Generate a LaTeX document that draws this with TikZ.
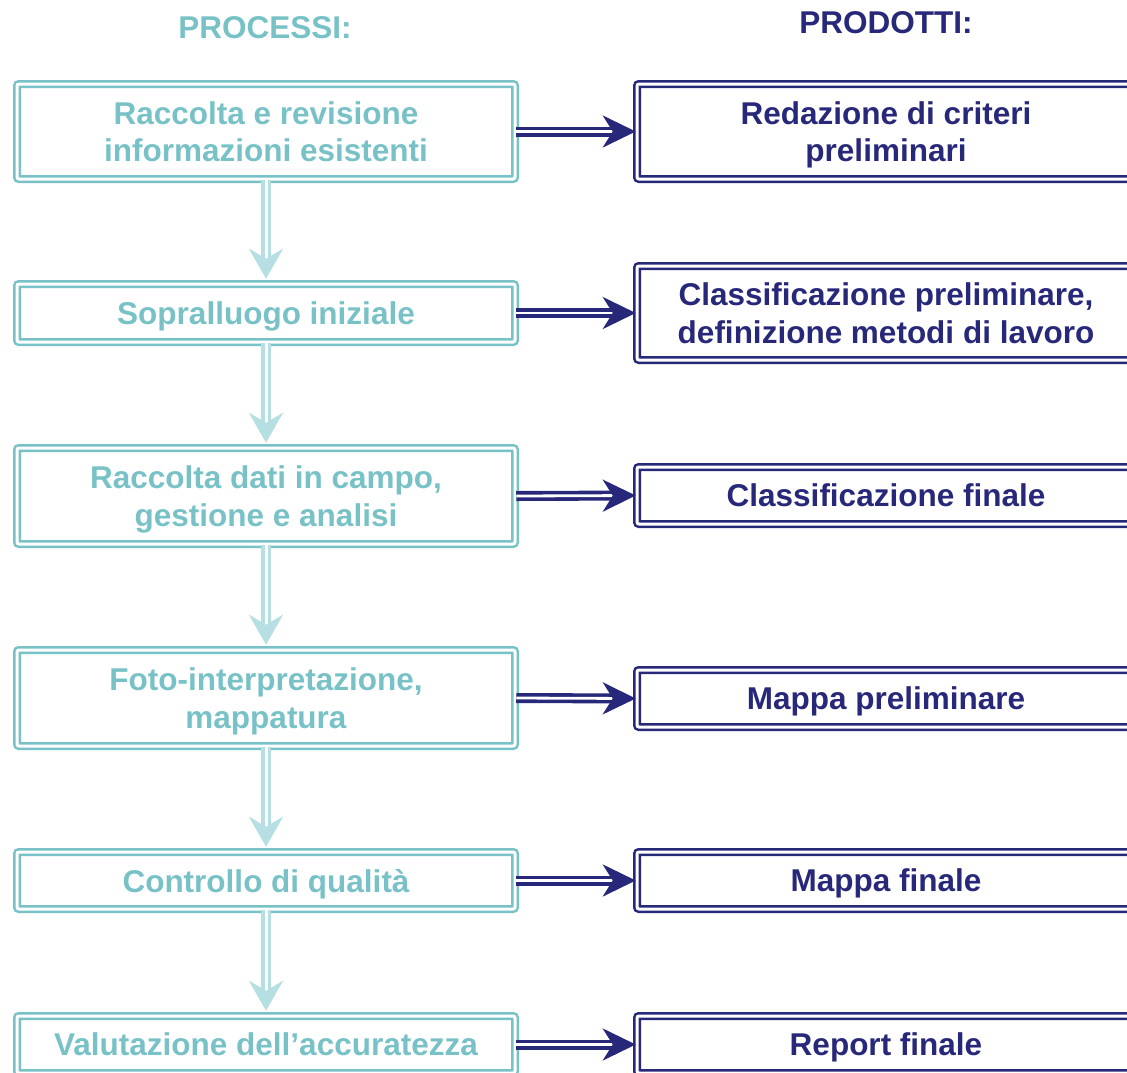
\documentclass[tikz,border=0pt]{standalone}
\usepackage{fontspec}
\setmainfont{Liberation Sans}
\usetikzlibrary{arrows.meta}
\definecolor{teal1}{HTML}{78C2C7}
\definecolor{teallight}{HTML}{B6DFE3}
\definecolor{navy1}{HTML}{28287A}
\tikzset{
  boxbase/.style={draw, double=white, double distance=3pt, line width=2.5pt,
    rounded corners=2pt, minimum width=498pt, inner sep=0pt, align=center,
    text depth=0pt,
    font=\fontsize{31.5}{37.5}\selectfont\bfseries},
  procbox/.style={boxbase, draw=teal1, text=teal1},
  prodbox/.style={boxbase, draw=navy1, text=navy1},
  downarrow/.style={draw=teallight, double=white, double distance=3pt, line width=3.5pt,
    -{Stealth[length=30pt, width=34pt, inset=10pt]}},
  rightarrow/.style={draw=navy1, double=white, double distance=2.8pt, line width=3.6pt,
    -{Stealth[length=33pt, width=32pt, inset=10pt]}},
  header/.style={font=\fontsize{31.5}{37.5}\selectfont\bfseries, inner sep=0pt}
}
\begin{document}
\begin{tikzpicture}[x=1pt, y=-1pt]
\useasboundingbox (0,0) rectangle (1127,1072);
\clip (0,0) rectangle (1127,1072);
\node[header, text=teal1, anchor=base] (h1) at (265,38) {PROCESSI:};
\node[header, text=navy1, anchor=base] (h2) at (886,33) {PRODOTTI:};

\node[procbox, minimum height=95pt] (L1) at (266,131.5) {Raccolta e revisione\\informazioni esistenti};
\node[procbox, minimum height=58pt] (L2) at (266,313) {Sopralluogo iniziale};
\node[procbox, minimum height=96pt] (L3) at (266,496) {Raccolta dati in campo,\\gestione e analisi};
\node[procbox, minimum height=96pt] (L4) at (266,698) {Foto-interpretazione,\\mappatura};
\node[procbox, minimum height=57pt] (L5) at (266,880.5) {Controllo di qualità};
\node[procbox, minimum height=57pt] (L6) at (266,1044.5) {Valutazione dell’accuratezza};

\node[prodbox, minimum height=95pt] (R1) at (886,131.5) {Redazione di criteri\\preliminari};
\node[prodbox, minimum height=94pt] (R2) at (886,313) {Classificazione preliminare,\\definizione metodi di lavoro};
\node[prodbox, minimum height=57pt] (R3) at (886,495.5) {Classificazione finale};
\node[prodbox, minimum height=57pt] (R4) at (886,698.5) {Mappa preliminare};
\node[prodbox, minimum height=57pt] (R5) at (886,880.5) {Mappa finale};
\node[prodbox, minimum height=57pt] (R6) at (886,1044.5) {Report finale};

\foreach \a/\b in {L1/L2, L2/L3, L3/L4, L4/L5, L5/L6}
  \draw[downarrow] (\a.south) -- ([yshift=4pt]\b.north);
\foreach \i in {1,...,6}
  \draw[rightarrow] (L\i.east) -- (R\i.west);
\end{tikzpicture}
\end{document}
